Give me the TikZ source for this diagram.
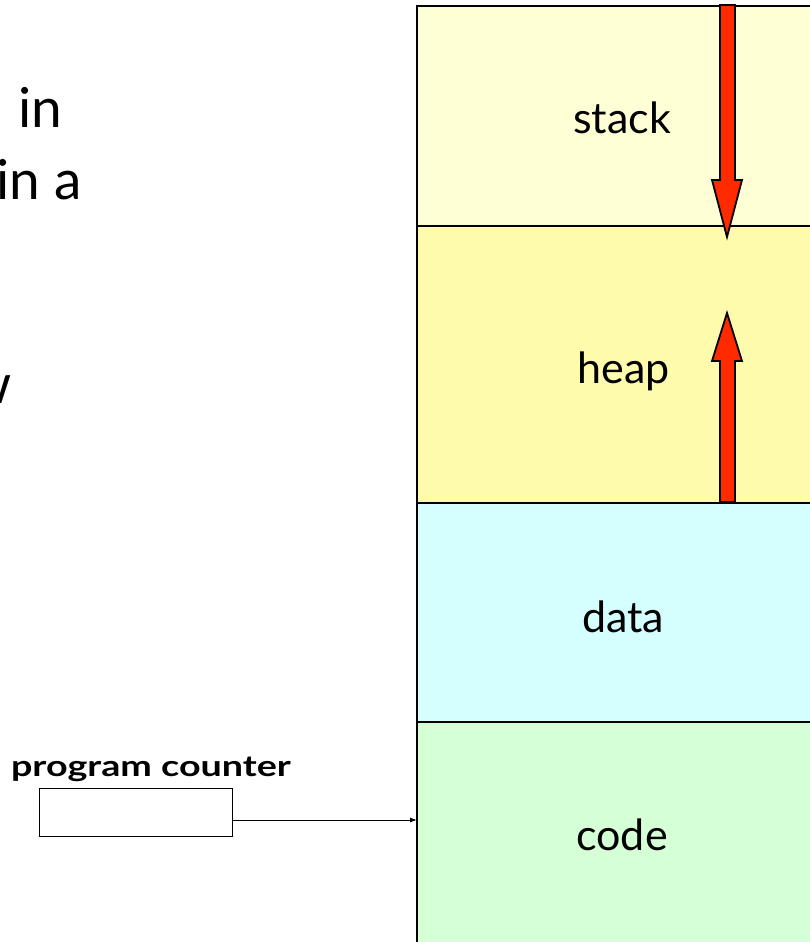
\documentclass[tikz,border=0pt]{standalone}
\usepackage{fontspec}
\setmainfont{Lato}
\usetikzlibrary{arrows.meta}
\definecolor{stackc}{HTML}{FFFFD6}
\definecolor{heapc}{HTML}{FFFBAD}
\definecolor{datac}{HTML}{D5FFFF}
\definecolor{codec}{HTML}{D5FFD5}
\definecolor{arrowred}{HTML}{FF2A00}
\tikzset{
  region/.style={draw=black, line width=2pt, minimum width=410pt, inner sep=0pt, outer sep=0pt},
  lbl/.style={font=\fontsize{43}{50}\selectfont, anchor=base, inner sep=0pt},
  bodytext/.style={font=\fontsize{55}{66}\selectfont, inner sep=0pt},
  growarrow/.style={fill=arrowred, draw=black, line width=1.8pt, line join=miter},
  pcbox/.style={draw=black, line width=1pt, minimum width=193pt, minimum height=48pt, inner sep=0pt},
  pcarrow/.style={draw=black, line width=1pt, -{Latex[length=7pt,width=5pt]}}
}
\begin{document}
\begin{tikzpicture}[x=1pt,y=-1pt]
\useasboundingbox (0,0) rectangle (809,942);
% memory regions
\node[region, fill=stackc, minimum height=220pt] (stack) at (622,116) {};
\node[region, fill=heapc, minimum height=277pt] (heap) at (622,364.5) {};
\node[region, fill=datac, minimum height=219pt] (data) at (622,612.5) {};
\node[region, fill=codec, minimum height=240pt] (code) at (622,842) {};
% labels
\node[lbl] (stacklbl) at (622,133) {stack};
\node[lbl] (heaplbl) at (624,383) {heap};
\node[lbl] (datalbl) at (623,632) {data};
\node[lbl] (codelbl) at (622,850) {code};
% growth arrows
\draw[growarrow] (720,5) -- (735,5) -- (735,180) -- (742,180) -- (727,237) -- (712,180) -- (720,180) -- cycle;
\draw[growarrow] (720,502) -- (735,502) -- (735,361) -- (742,361) -- (727,313) -- (712,361) -- (720,361) -- cycle;
% cut-off body text at left
\node[bodytext, anchor=base west] (t1) at (18,127) {in};
\node[bodytext, anchor=base west] (t2) at (-4,199) {in a};
\node[bodytext, anchor=base east] (t3) at (12,403) {w};
% program counter
\node[font=\fontsize{29}{34}\selectfont\bfseries, anchor=base, inner sep=0pt] (pclbl) at (151,776) {\scalebox{1.3}[1]{program counter}};
\node[pcbox] (pc) at (135.5,812) {};
\draw[pcarrow] ([yshift=-8pt]pc.east) -- ([yshift=-8pt]pc.east -| code.west);
\end{tikzpicture}
\end{document}
